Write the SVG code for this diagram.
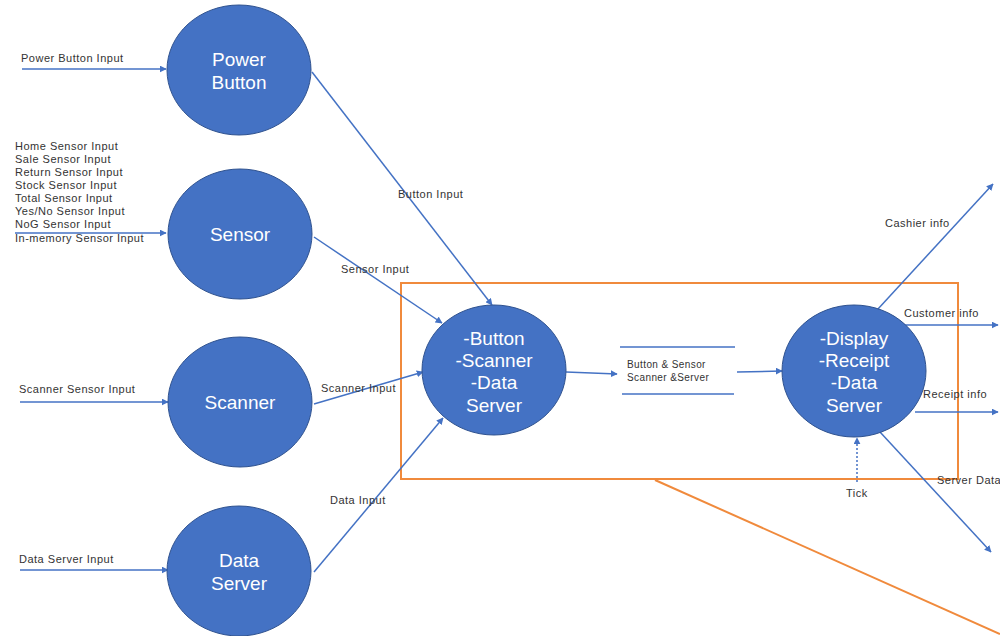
<svg xmlns="http://www.w3.org/2000/svg" width="1000" height="636" viewBox="0 0 1000 636">
<defs>
<marker id="ah" viewBox="0 0 10 10" refX="9" refY="5" markerWidth="7" markerHeight="7" markerUnits="userSpaceOnUse" orient="auto">
<path d="M0,0 L10,5 L0,10 z" fill="#4472C4"/>
</marker>
<style>
.node{fill:#4472C4;stroke:#2F528F;stroke-width:1}
.nt{font-family:"Liberation Sans",Arial,sans-serif;font-size:19px;fill:#ffffff;text-anchor:middle}
.lbl{font-family:"Liberation Sans",Arial,sans-serif;font-size:11px;letter-spacing:0.5px;fill:#333333}
.c{stroke:#4472C4;stroke-width:1.5;fill:none;marker-end:url(#ah)}
.o{stroke:#F08A3C;stroke-width:2;fill:none}
</style>
</defs>
<rect width="1000" height="636" fill="#ffffff"/>

<g id="boundary">
<rect class="o" x="401" y="283" width="557" height="196"/>
<line class="o" x1="655" y1="480" x2="1000" y2="634"/>
</g>

<g id="connectors">
<line class="c" x1="22" y1="69" x2="166" y2="69"/>
<line class="c" x1="15" y1="233" x2="166" y2="233"/>
<line class="c" x1="20" y1="402" x2="168" y2="402"/>
<line class="c" x1="20" y1="570" x2="168" y2="570"/>
<line class="c" x1="312" y1="72" x2="492" y2="305"/>
<line class="c" x1="314" y1="237" x2="442" y2="323"/>
<line class="c" x1="314" y1="404" x2="423" y2="372"/>
<line class="c" x1="314" y1="572" x2="443" y2="418"/>
<line class="c" x1="566" y1="372" x2="617" y2="374"/>
<line class="c" x1="737" y1="372" x2="782" y2="371"/>
<line class="c" x1="878" y1="309" x2="993" y2="184"/>
<line class="c" x1="905" y1="325" x2="998" y2="325"/>
<line class="c" x1="915" y1="412" x2="998" y2="412"/>
<line class="c" x1="880" y1="432" x2="991" y2="552"/>
<line class="c" x1="857" y1="482" x2="857" y2="438" stroke-dasharray="2,2"/>
</g>

<g id="store">
<line x1="620" y1="347" x2="735" y2="347" stroke="#4472C4" stroke-width="1.5"/>
<line x1="622" y1="394" x2="734" y2="394" stroke="#4472C4" stroke-width="1.5"/>
<text class="lbl" x="627" y="368" style="font-size:10px;letter-spacing:0.4px">Button &amp; Sensor</text>
<text class="lbl" x="627" y="381" style="font-size:10px;letter-spacing:0.4px">Scanner &amp;Server</text>
</g>

<g id="power-button">
<ellipse class="node" cx="239" cy="70" rx="72" ry="65"/>
<text class="nt" x="239" y="66">Power</text>
<text class="nt" x="239" y="89">Button</text>
</g>

<g id="sensor">
<ellipse class="node" cx="240" cy="234" rx="72" ry="65"/>
<text class="nt" x="240" y="241">Sensor</text>
</g>

<g id="scanner">
<ellipse class="node" cx="240" cy="402" rx="72" ry="65"/>
<text class="nt" x="240" y="409">Scanner</text>
</g>

<g id="data-server">
<ellipse class="node" cx="239" cy="571" rx="72" ry="65"/>
<text class="nt" x="239" y="567">Data</text>
<text class="nt" x="239" y="590">Server</text>
</g>

<g id="process-input">
<ellipse class="node" cx="494" cy="370" rx="72" ry="65"/>
<text class="nt" x="494" y="345">-Button</text>
<text class="nt" x="494" y="367">-Scanner</text>
<text class="nt" x="494" y="389">-Data</text>
<text class="nt" x="494" y="412">Server</text>
</g>

<g id="process-output">
<ellipse class="node" cx="854" cy="371" rx="72" ry="66"/>
<text class="nt" x="854" y="345">-Display</text>
<text class="nt" x="854" y="367">-Receipt</text>
<text class="nt" x="854" y="389">-Data</text>
<text class="nt" x="854" y="412">Server</text>
</g>

<g id="labels">
<text class="lbl" x="21" y="62">Power Button Input</text>
<text class="lbl" x="15" y="150">Home Sensor Input</text>
<text class="lbl" x="15" y="163">Sale Sensor Input</text>
<text class="lbl" x="15" y="176">Return Sensor Input</text>
<text class="lbl" x="15" y="189">Stock Sensor Input</text>
<text class="lbl" x="15" y="202">Total Sensor Input</text>
<text class="lbl" x="15" y="215">Yes/No Sensor Input</text>
<text class="lbl" x="15" y="228">NoG Sensor Input</text>
<text class="lbl" x="15" y="242">In-memory Sensor Input</text>
<text class="lbl" x="19" y="393">Scanner Sensor Input</text>
<text class="lbl" x="19" y="563">Data Server Input</text>
<text class="lbl" x="398" y="198">Button Input</text>
<text class="lbl" x="341" y="273">Sensor Input</text>
<text class="lbl" x="321" y="392">Scanner Input</text>
<text class="lbl" x="330" y="504">Data Input</text>
<text class="lbl" x="885" y="227">Cashier info</text>
<text class="lbl" x="904" y="317">Customer info</text>
<text class="lbl" x="923" y="398">Receipt info</text>
<text class="lbl" x="937" y="484">Server Data</text>
<text class="lbl" x="846" y="497">Tick</text>
</g>
</svg>
